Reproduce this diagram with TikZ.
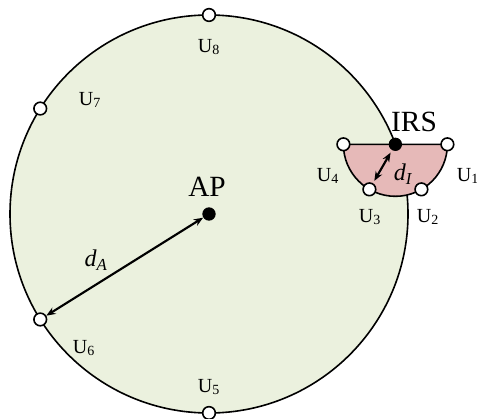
\documentclass[tikz,border=0pt]{standalone}
\usepackage{fontspec}
\setmainfont{Liberation Serif}
\usetikzlibrary{arrows.meta,calc}
\definecolor{cellgreen}{HTML}{EBF1DE}
\definecolor{irspink}{HTML}{E6B9B8}
\begin{document}
\begin{tikzpicture}[x=0.75pt,y=0.75pt,>={Stealth[length=7pt,width=5.5pt]},
  user/.style={circle,draw=black,fill=white,line width=1.2pt,inner sep=0pt,minimum size=9.5pt},
  hub/.style={circle,fill=black,inner sep=0pt,minimum size=10pt},
  ulab/.style={font=\fontsize{15}{17}\selectfont},
  big/.style={font=\fontsize{22}{24}\selectfont},
  dist/.style={font=\fontsize{18}{20}\selectfont\itshape}]
\useasboundingbox (0,0) rectangle (477,418);
% cell and IRS area
\coordinate (c) at (209,204);
\fill[cellgreen] (c) circle[radius=199];
\draw[line width=1.2pt] (c) circle[radius=199];
\coordinate (i) at ($(c)+(20.5:199)$);
\filldraw[fill=irspink,draw=black,line width=1.2pt] (i) ++(-52,0) arc[start angle=180,end angle=360,radius=52] -- cycle;
% nodes
\node[hub] (ap) at (c) {};
\node[hub] (irs) at (i) {};
\node[user] (u1) at ($(i)+(52,0)$) {};
\node[user] (u2) at ($(i)+(300:52)$) {};
\node[user] (u3) at ($(i)+(240:52)$) {};
\node[user] (u4) at ($(i)+(-52,0)$) {};
\node[user] (u5) at ($(c)+(270:199)$) {};
\node[user] (u6) at ($(c)+(212:199)$) {};
\node[user] (u7) at ($(c)+(148:199)$) {};
\node[user] (u8) at ($(c)+(90:199)$) {};
% labels
\node[big] (aplab) at (207,231) {AP};
\node[big] (irslab) at (414,296) {IRS};
\node[ulab] (l1) at (468,242) {U\textsubscript{1}};
\node[ulab] (l2) at (428,201) {U\textsubscript{2}};
\node[ulab] (l3) at (370,201) {U\textsubscript{3}};
\node[ulab] (l4) at (328,242) {U\textsubscript{4}};
\node[ulab] (l5) at (209,31) {U\textsubscript{5}};
\node[ulab] (l6) at (84,70) {U\textsubscript{6}};
\node[ulab] (l7) at (90,318) {U\textsubscript{7}};
\node[ulab] (l8) at (209,371) {U\textsubscript{8}};
% distances
\draw[<->,line width=1.6pt] (ap) -- (u6);
\node[dist] (da) at (96,158) {d\textsubscript{\itshape A}};
\draw[<->,line width=1.6pt,shorten <=2pt,shorten >=2pt] (irs) -- (u3);
\node[dist] (di) at (403,244) {d\textsubscript{\itshape I}};
\end{tikzpicture}
\end{document}
